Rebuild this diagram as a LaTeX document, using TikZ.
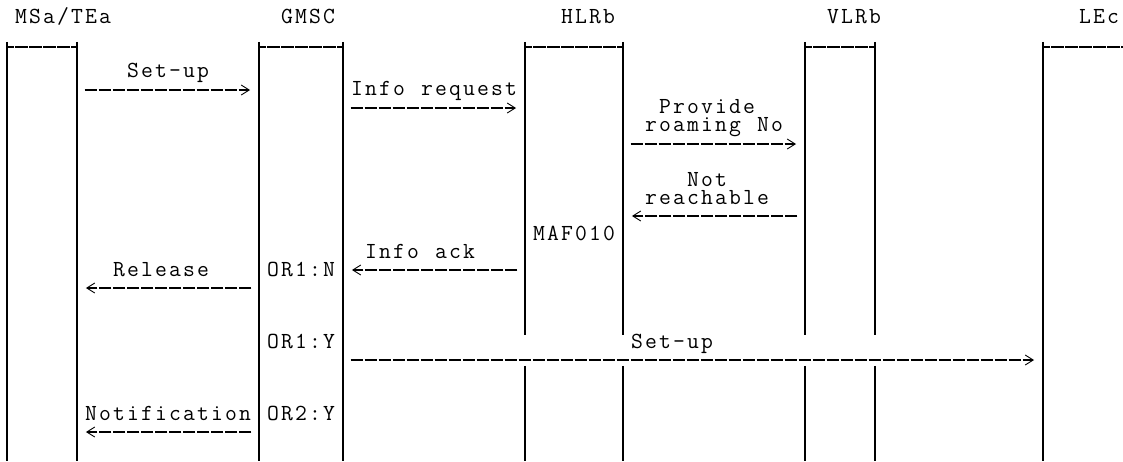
\documentclass[tikz,border=0pt]{standalone}
\usepackage{fontspec}
\usepackage{tikz}
\usetikzlibrary{arrows.meta}
\newcommand\cells[1]{\cellsloop#1\relax}
\newcommand\cellsloop[1]{\ifx\relax#1\else\makebox[14pt]{#1}\expandafter\cellsloop\fi}

\begin{document}
\begin{tikzpicture}[
  x=14pt, y=-18pt,
  lbl/.style={anchor=base west, inner sep=0pt, outer sep=0pt,
              font=\ttfamily\fontsize{23}{26}\selectfont},
  life/.style={line width=1.6pt},
  boxtop/.style={line width=1.2pt, dash pattern=on 12.5pt off 1.5pt, dash phase=6pt},
  msg/.style={line width=1.4pt, dash pattern=on 12.5pt off 1.5pt,
              -{Straight Barb[length=8pt,width=10pt,line width=0.9pt]}}
]
  \useasboundingbox (0,0) rectangle (80.214,25.611);

  \foreach \c in {0,5,18,24,74}
    \draw[life] (\c+0.5,2.333) -- (\c+0.5,25.611);
  \foreach \c in {37,44,57,62} {
    \draw[life] (\c+0.5,2.333) -- (\c+0.5,18.61);
    \draw[life] (\c+0.5,20.33) -- (\c+0.5,25.611);
  }
  \foreach \a/\b in {0/5,18/24,37/44,57/62}
    \draw[boxtop] (\a+0.5,2.611) -- (\b+0.5,2.611);
  \draw[boxtop] (74.5,2.611) -- (80.214,2.611);

  \node[lbl] (msa)  at (1,1.333)  {\cells{MSa/TEa}};
  \node[lbl] (gmsc) at (20,1.333) {\cells{GMSC}};
  \node[lbl] (hlr)  at (40,1.333) {\cells{HLRb}};
  \node[lbl] (vlr)  at (59,1.333) {\cells{VLRb}};
  \node[lbl] (lec)  at (77,1.333) {\cells{LEc}};

  \node[lbl] (setup1)  at (9,4.333)   {\cells{Set-up}};
  \node[lbl] (inforeq) at (25,5.333)  {\cells{Info~request}};
  \node[lbl] (prov)    at (47,6.333)  {\cells{Provide}};
  \node[lbl] (roam)    at (46,7.333)  {\cells{roaming~No}};
  \node[lbl] (notr)    at (49,10.333) {\cells{Not}};
  \node[lbl] (reach)   at (46,11.333) {\cells{reachable}};
  \node[lbl] (maf)     at (38,13.333) {\cells{MAF010}};
  \node[lbl] (infoack) at (26,14.333) {\cells{Info~ack}};
  \node[lbl] (rel)     at (8,15.333)  {\cells{Release}};
  \node[lbl] (orin)    at (19,15.333) {\cells{OR1:N}};
  \node[lbl] (oriy)    at (19,19.333) {\cells{OR1:Y}};
  \node[lbl] (setup2)  at (45,19.333) {\cells{Set-up}};
  \node[lbl] (notif)   at (6,23.333)  {\cells{Notification}};
  \node[lbl] (oriiy)   at (19,23.333) {\cells{OR2:Y}};

  \coordinate (su1a) at (6.05,5);   \coordinate (su1b) at (17.86,5);
  \coordinate (ira)  at (25.05,6);  \coordinate (irb)  at (36.86,6);
  \coordinate (pra)  at (45.05,8);  \coordinate (prb)  at (56.86,8);
  \coordinate (nra)  at (56.95,12); \coordinate (nrb)  at (45.14,12);
  \coordinate (iaa)  at (36.95,15); \coordinate (iab)  at (25.14,15);
  \coordinate (rla)  at (17.95,16); \coordinate (rlb)  at (6.14,16);
  \coordinate (su2a) at (25.05,20); \coordinate (su2b) at (73.86,20);
  \coordinate (nta)  at (17.95,24); \coordinate (ntb)  at (6.14,24);

  \draw[msg] (su1a) -- (su1b);
  \draw[msg] (ira)  -- (irb);
  \draw[msg] (pra)  -- (prb);
  \draw[msg] (nra)  -- (nrb);
  \draw[msg] (iaa)  -- (iab);
  \draw[msg] (rla)  -- (rlb);
  \draw[msg] (su2a) -- (su2b);
  \draw[msg] (nta)  -- (ntb);
\end{tikzpicture}
\end{document}
